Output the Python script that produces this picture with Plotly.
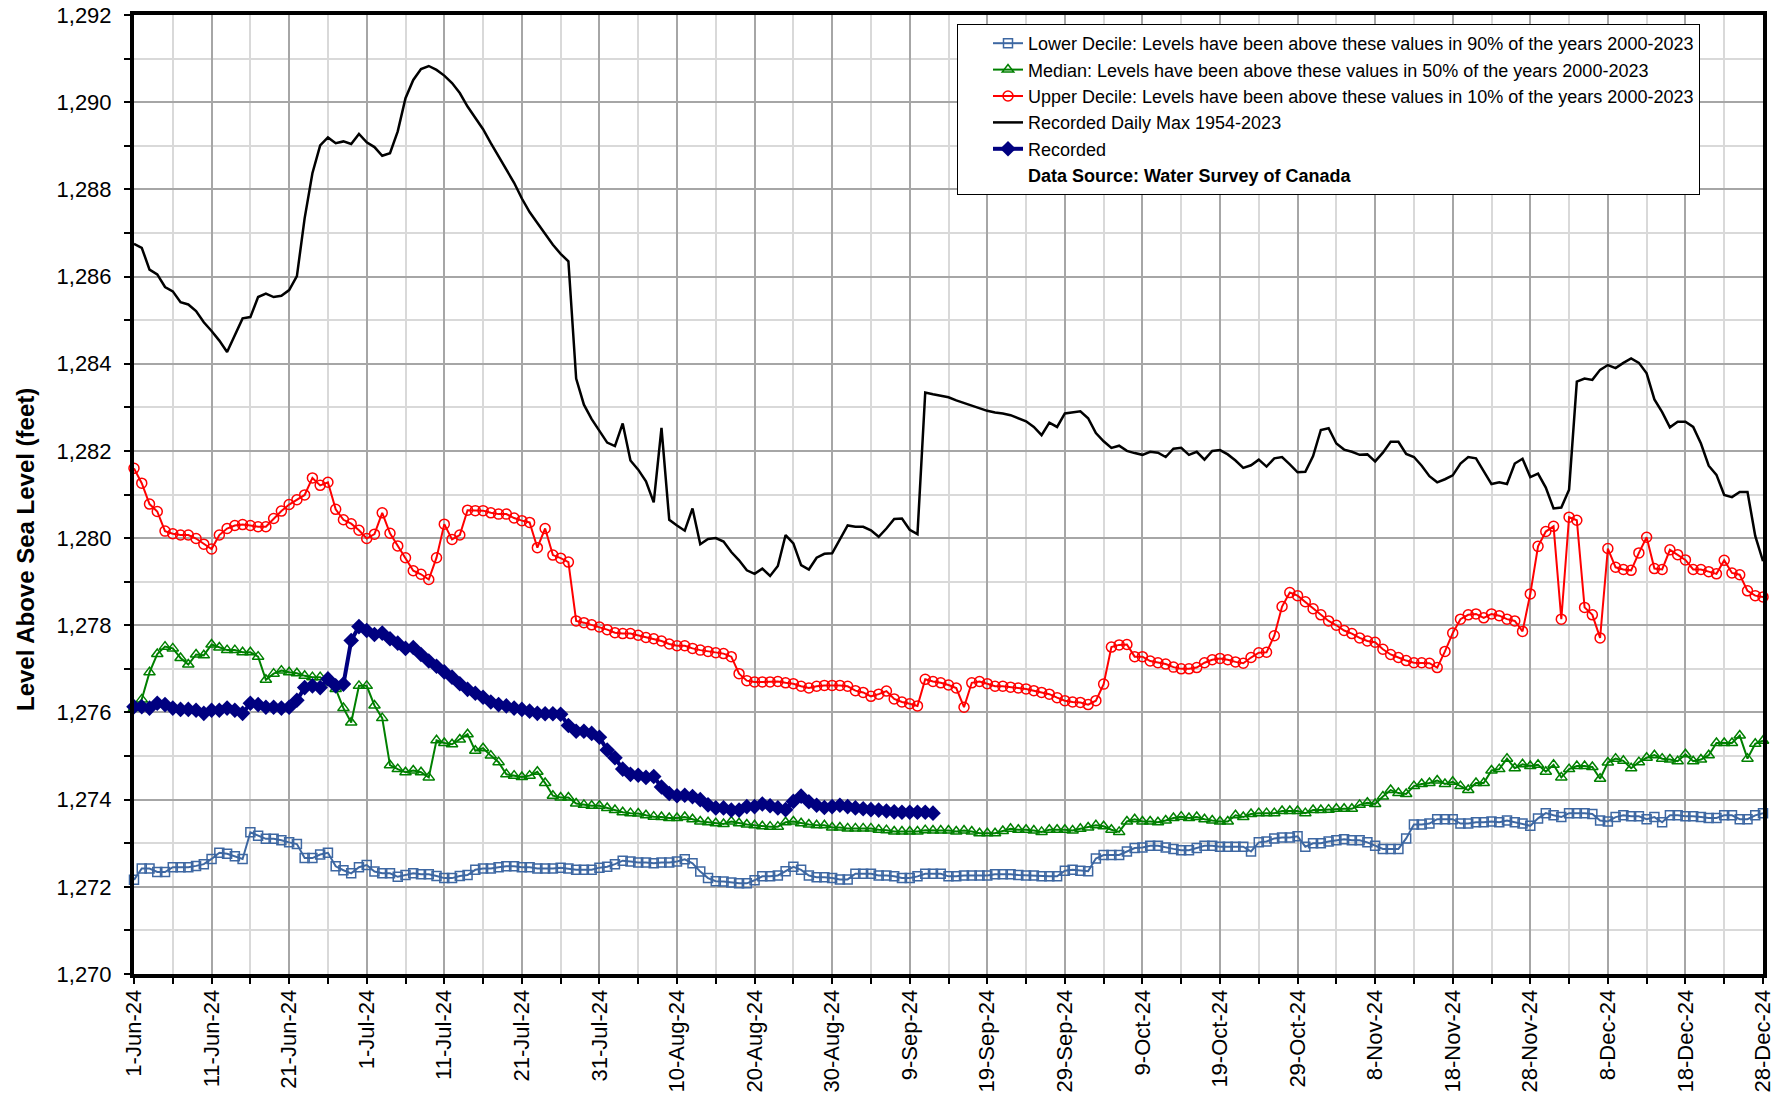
import pandas as pd
import plotly.graph_objects as go

dates = [d.strftime("%Y-%m-%d") for d in pd.date_range("2024-06-01", "2024-12-28", freq="D")]

lower_decile = [
    1272.16, 1272.42, 1272.42, 1272.34, 1272.34, 1272.45, 1272.45, 1272.45, 1272.48, 1272.52,
    1272.64, 1272.78, 1272.76, 1272.70, 1272.64, 1273.25, 1273.17, 1273.10, 1273.10, 1273.07,
    1273.02, 1272.98, 1272.66, 1272.66, 1272.74, 1272.78, 1272.47, 1272.38, 1272.31, 1272.45,
    1272.50, 1272.35, 1272.31, 1272.31, 1272.23, 1272.27, 1272.31, 1272.29, 1272.29, 1272.25,
    1272.20, 1272.20, 1272.25, 1272.27, 1272.39, 1272.42, 1272.42, 1272.45, 1272.47, 1272.47,
    1272.45, 1272.45, 1272.42, 1272.42, 1272.42, 1272.44,
    1272.42, 1272.39, 1272.39, 1272.39, 1272.44, 1272.46, 1272.52, 1272.60, 1272.58, 1272.56,
    1272.56, 1272.54, 1272.56, 1272.56, 1272.58, 1272.63, 1272.54, 1272.35, 1272.20, 1272.13,
    1272.12, 1272.10, 1272.08, 1272.08, 1272.15, 1272.24, 1272.24, 1272.26, 1272.36, 1272.46,
    1272.39, 1272.26, 1272.22, 1272.22, 1272.20, 1272.17, 1272.17, 1272.30, 1272.30, 1272.30,
    1272.26, 1272.26, 1272.24, 1272.20, 1272.20, 1272.24, 1272.30, 1272.30, 1272.30, 1272.24,
    1272.24, 1272.26, 1272.26, 1272.26, 1272.26, 1272.29,
    1272.29, 1272.29, 1272.27, 1272.26, 1272.26, 1272.24, 1272.24, 1272.24, 1272.37, 1272.39,
    1272.37, 1272.36, 1272.65, 1272.73, 1272.73, 1272.73, 1272.81, 1272.89, 1272.90, 1272.94,
    1272.94, 1272.90, 1272.87, 1272.84, 1272.84, 1272.89, 1272.94, 1272.94, 1272.92, 1272.92,
    1272.92, 1272.92, 1272.81, 1273.02, 1273.04, 1273.11, 1273.13, 1273.13, 1273.16, 1272.92,
    1273.00, 1273.00, 1273.04, 1273.07, 1273.09, 1273.07, 1273.07, 1273.02, 1272.94, 1272.87,
    1272.87, 1272.87,
    1273.11, 1273.43, 1273.43, 1273.45, 1273.55, 1273.55, 1273.55, 1273.45, 1273.45, 1273.48,
    1273.48, 1273.50, 1273.48, 1273.52, 1273.48, 1273.45, 1273.40, 1273.57, 1273.69, 1273.64,
    1273.60, 1273.69, 1273.69, 1273.69, 1273.67, 1273.52, 1273.50, 1273.60, 1273.64, 1273.62,
    1273.62, 1273.55, 1273.60, 1273.48, 1273.64, 1273.64, 1273.62, 1273.62, 1273.60, 1273.58,
    1273.58, 1273.64, 1273.64, 1273.55, 1273.55, 1273.64, 1273.69,
]

median = [
    1276.10, 1276.30, 1276.92, 1277.34, 1277.51, 1277.47, 1277.25, 1277.10, 1277.33, 1277.31,
    1277.56, 1277.49, 1277.43, 1277.43, 1277.38, 1277.38, 1277.28, 1276.75, 1276.89, 1276.96,
    1276.92, 1276.90, 1276.84, 1276.81, 1276.81, 1276.69, 1276.54, 1276.10, 1275.77, 1276.61,
    1276.61, 1276.16, 1275.87, 1274.79, 1274.70, 1274.63, 1274.67, 1274.63, 1274.51, 1275.36,
    1275.30, 1275.27, 1275.38, 1275.50, 1275.12, 1275.18, 1275.01, 1274.86, 1274.58, 1274.55,
    1274.52, 1274.55, 1274.64, 1274.38, 1274.09, 1274.05,
    1274.05, 1273.91, 1273.88, 1273.86, 1273.86, 1273.81, 1273.76, 1273.71, 1273.69, 1273.68,
    1273.64, 1273.61, 1273.60, 1273.58, 1273.58, 1273.60, 1273.55, 1273.50, 1273.48, 1273.46,
    1273.44, 1273.50, 1273.46, 1273.43, 1273.41, 1273.39, 1273.38, 1273.38, 1273.48, 1273.50,
    1273.46, 1273.43, 1273.41, 1273.41, 1273.36, 1273.36, 1273.34, 1273.34, 1273.34, 1273.34,
    1273.31, 1273.30, 1273.27, 1273.27, 1273.27, 1273.27, 1273.30, 1273.29, 1273.29, 1273.29,
    1273.27, 1273.29, 1273.27, 1273.23, 1273.23, 1273.23,
    1273.28, 1273.33, 1273.31, 1273.31, 1273.29, 1273.26, 1273.31, 1273.31, 1273.31, 1273.29,
    1273.33, 1273.36, 1273.41, 1273.39, 1273.31, 1273.26, 1273.50, 1273.55, 1273.50, 1273.50,
    1273.48, 1273.52, 1273.58, 1273.61, 1273.58, 1273.60, 1273.55, 1273.52, 1273.50, 1273.50,
    1273.64, 1273.60, 1273.67, 1273.69, 1273.69, 1273.69, 1273.74, 1273.74, 1273.74, 1273.69,
    1273.76, 1273.76, 1273.77, 1273.79, 1273.79, 1273.79, 1273.88, 1273.93, 1273.90, 1274.07,
    1274.22, 1274.15,
    1274.13, 1274.31, 1274.36, 1274.38, 1274.44, 1274.36, 1274.41, 1274.31, 1274.22, 1274.38,
    1274.38, 1274.67, 1274.70, 1274.94, 1274.72, 1274.81, 1274.77, 1274.80, 1274.64, 1274.80,
    1274.51, 1274.70, 1274.77, 1274.77, 1274.75, 1274.48, 1274.85, 1274.94, 1274.89, 1274.72,
    1274.86, 1274.96, 1275.02, 1274.94, 1274.92, 1274.88, 1275.04, 1274.88, 1274.92, 1275.02,
    1275.30, 1275.30, 1275.30, 1275.47, 1274.94, 1275.28, 1275.35,
]

upper_decile = [
    1281.60, 1281.26, 1280.78, 1280.61, 1280.16, 1280.10, 1280.07, 1280.07, 1279.99, 1279.86,
    1279.75, 1280.07, 1280.22, 1280.29, 1280.31, 1280.29, 1280.26, 1280.26, 1280.45, 1280.62,
    1280.77, 1280.88, 1280.99, 1281.38, 1281.21, 1281.28, 1280.66, 1280.42, 1280.33, 1280.18,
    1279.99, 1280.09, 1280.58, 1280.11, 1279.82, 1279.55, 1279.25, 1279.17, 1279.05, 1279.55,
    1280.32, 1279.97, 1280.07, 1280.64, 1280.63, 1280.63, 1280.58, 1280.55, 1280.55, 1280.46,
    1280.40, 1280.36, 1279.78, 1280.22, 1279.61, 1279.54,
    1279.45, 1278.10, 1278.06, 1278.01, 1277.96, 1277.90, 1277.83, 1277.81, 1277.81, 1277.77,
    1277.72, 1277.69, 1277.64, 1277.57, 1277.53, 1277.53, 1277.47, 1277.43, 1277.40, 1277.37,
    1277.35, 1277.28, 1276.89, 1276.73, 1276.70, 1276.70, 1276.70, 1276.71, 1276.68, 1276.66,
    1276.60, 1276.56, 1276.60, 1276.62, 1276.62, 1276.62, 1276.60, 1276.50, 1276.46, 1276.37,
    1276.42, 1276.49, 1276.31, 1276.24, 1276.20, 1276.15, 1276.76, 1276.71, 1276.68, 1276.63,
    1276.56, 1276.12, 1276.68, 1276.71, 1276.66, 1276.60,
    1276.60, 1276.58, 1276.56, 1276.54, 1276.50, 1276.46, 1276.42, 1276.34, 1276.27, 1276.24,
    1276.23, 1276.18, 1276.27, 1276.65, 1277.50, 1277.55, 1277.56, 1277.28, 1277.28, 1277.18,
    1277.14, 1277.11, 1277.04, 1277.00, 1277.00, 1277.03, 1277.14, 1277.21, 1277.24, 1277.21,
    1277.16, 1277.13, 1277.26, 1277.37, 1277.38, 1277.76, 1278.43, 1278.75, 1278.68, 1278.54,
    1278.38, 1278.24, 1278.10, 1278.00, 1277.88, 1277.81, 1277.71, 1277.64, 1277.61, 1277.45,
    1277.33, 1277.26,
    1277.19, 1277.14, 1277.14, 1277.13, 1277.03, 1277.40, 1277.82, 1278.14, 1278.24, 1278.26,
    1278.17, 1278.26, 1278.22, 1278.14, 1278.10, 1277.86, 1278.72, 1279.81, 1280.15, 1280.27,
    1278.14, 1280.48, 1280.41, 1278.41, 1278.24, 1277.71, 1279.76, 1279.33, 1279.28, 1279.26,
    1279.66, 1280.02, 1279.30, 1279.28, 1279.73, 1279.62, 1279.50, 1279.28, 1279.28, 1279.23,
    1279.18, 1279.49, 1279.20, 1279.16, 1278.79, 1278.68, 1278.65,
]

daily_max = [
    1286.75, 1286.66, 1286.16, 1286.05, 1285.76, 1285.66, 1285.41, 1285.36, 1285.21, 1284.95,
    1284.75, 1284.53, 1284.27, 1284.67, 1285.04, 1285.07, 1285.53, 1285.61, 1285.53, 1285.56,
    1285.69, 1286.01, 1287.34, 1288.37, 1289.01, 1289.19, 1289.06, 1289.10, 1289.04, 1289.27,
    1289.08, 1288.97, 1288.77, 1288.83, 1289.33, 1290.09, 1290.51, 1290.76, 1290.83, 1290.74,
    1290.61, 1290.44, 1290.21, 1289.90, 1289.65, 1289.38, 1289.06, 1288.76, 1288.43, 1288.15,
    1287.79, 1287.48, 1287.23, 1286.98, 1286.73, 1286.52, 1286.35,
    1283.66, 1283.06, 1282.73, 1282.46, 1282.19, 1282.11, 1282.63, 1281.78, 1281.57, 1281.30,
    1280.82, 1282.53, 1280.42, 1280.29, 1280.17, 1280.68, 1279.86, 1279.98, 1280.00, 1279.92,
    1279.68, 1279.49, 1279.26, 1279.18, 1279.30, 1279.13, 1279.36, 1280.07, 1279.88, 1279.38,
    1279.28, 1279.55, 1279.64, 1279.65, 1279.97, 1280.29, 1280.26, 1280.26, 1280.18, 1280.03,
    1280.22, 1280.44, 1280.45, 1280.19, 1280.09, 1283.34, 1283.30, 1283.26, 1283.23, 1283.16,
    1283.10, 1283.04, 1282.97, 1282.92, 1282.88,
    1282.86, 1282.82, 1282.75, 1282.68, 1282.55, 1282.36, 1282.65, 1282.55, 1282.86, 1282.88,
    1282.91, 1282.75, 1282.41, 1282.22, 1282.07, 1282.12, 1282.00, 1281.95, 1281.91, 1281.98,
    1281.96, 1281.86, 1282.05, 1282.07, 1281.91, 1281.98, 1281.80, 1282.00, 1282.02, 1281.92,
    1281.78, 1281.61, 1281.67, 1281.80, 1281.64, 1281.83, 1281.86, 1281.69, 1281.51, 1281.52,
    1281.88, 1282.48, 1282.52, 1282.17, 1282.03, 1281.98, 1281.91, 1281.92, 1281.76, 1281.96,
    1282.21, 1282.21,
    1281.93, 1281.86, 1281.66, 1281.42, 1281.28, 1281.35, 1281.44, 1281.71, 1281.86, 1281.83,
    1281.54, 1281.24, 1281.28, 1281.24, 1281.71, 1281.82, 1281.40, 1281.48, 1281.16, 1280.68,
    1280.70, 1281.11, 1283.59, 1283.66, 1283.63, 1283.86, 1283.97, 1283.90, 1284.02, 1284.12,
    1284.02, 1283.78, 1283.18, 1282.89, 1282.54, 1282.67, 1282.67, 1282.55, 1282.17, 1281.66,
    1281.45, 1280.99, 1280.94, 1281.06, 1281.06, 1280.05, 1279.47,
]

recorded = [
    1276.13, 1276.13, 1276.10, 1276.21, 1276.18, 1276.10, 1276.07, 1276.07, 1276.05, 1275.98,
    1276.05, 1276.05, 1276.10, 1276.05, 1275.98, 1276.21, 1276.18, 1276.12, 1276.12, 1276.10,
    1276.12, 1276.28, 1276.57, 1276.61, 1276.57, 1276.77, 1276.61, 1276.65, 1277.65, 1277.97,
    1277.88, 1277.79, 1277.82, 1277.69, 1277.59, 1277.47, 1277.49, 1277.33, 1277.18, 1277.06,
    1276.93, 1276.81, 1276.66, 1276.53, 1276.44, 1276.35, 1276.24, 1276.18, 1276.15, 1276.10,
    1276.07, 1276.03, 1275.98, 1275.97, 1275.97, 1275.96, 1275.70,
    1275.57, 1275.57, 1275.52, 1275.43, 1275.14, 1274.96, 1274.70, 1274.58, 1274.56, 1274.51,
    1274.53, 1274.29, 1274.14, 1274.09, 1274.10, 1274.07, 1274.00, 1273.88, 1273.81, 1273.81,
    1273.76, 1273.76, 1273.84, 1273.84, 1273.90, 1273.86, 1273.81, 1273.77, 1273.96, 1274.08,
    1273.95, 1273.87, 1273.82, 1273.84, 1273.87, 1273.84, 1273.81, 1273.79, 1273.77, 1273.76,
    1273.74, 1273.72, 1273.71, 1273.71, 1273.71, 1273.71, 1273.69,
]

names = [
    "Lower Decile: Levels have been above these values in 90% of the years 2000-2023",
    "Median: Levels have been above these values in 50% of the years 2000-2023",
    "Upper Decile: Levels have been above these values in 10% of the years 2000-2023",
    "Recorded Daily Max 1954-2023",
    "Recorded",
    "<b>Data Source: Water Survey of Canada</b>",
]

FONT = "Arial, 'Liberation Sans', sans-serif"

W, H = 1786, 1097
ML, MR, MT, MB = 134, 23, 15, 123
PW = W - ML - MR
PH = H - MT - MB

fig = go.Figure()
fig.add_trace(go.Scatter(
    x=dates, y=lower_decile, name=names[0], mode="lines+markers",
    line=dict(color="#3D67A2", width=2),
    marker=dict(symbol="square-open", size=9, color="#3D67A2", line=dict(width=1.5)),
    cliponaxis=False))
fig.add_trace(go.Scatter(
    x=dates, y=median, name=names[1], mode="lines+markers",
    line=dict(color="#008000", width=2),
    marker=dict(symbol="triangle-up-open", size=10, color="#008000", line=dict(width=1.5)),
    cliponaxis=False))
fig.add_trace(go.Scatter(
    x=dates, y=upper_decile, name=names[2], mode="lines+markers",
    line=dict(color="#FF0000", width=2),
    marker=dict(symbol="circle-open", size=10, color="#FF0000", line=dict(width=1.5)),
    cliponaxis=False))
fig.add_trace(go.Scatter(
    x=dates, y=daily_max, name=names[3], mode="lines",
    line=dict(color="#000000", width=2.5)))
fig.add_trace(go.Scatter(
    x=dates[:len(recorded)], y=recorded, name=names[4], mode="lines+markers",
    line=dict(color="#000080", width=4),
    marker=dict(symbol="diamond", size=12, color="#000080"),
    cliponaxis=False))
fig.add_trace(go.Scatter(
    x=[None], y=[None], name=names[5], mode="lines",
    line=dict(color="rgba(0,0,0,0)", width=0)))

fig.update_layout(
    width=W, height=H,
    margin=dict(l=ML, r=MR, t=MT, b=MB, autoexpand=False),
    paper_bgcolor="white", plot_bgcolor="white",
    font=dict(family=FONT, color="black"),
    showlegend=True,
    legend=dict(
        x=(957 - ML) / PW, xanchor="left",
        y=(PH - (24 - MT)) / PH, yanchor="top",
        bgcolor="white", bordercolor="black", borderwidth=1,
        font=dict(family=FONT, size=18, color="black"),
        tracegroupgap=0,
        indentation=30,
    ),
    xaxis=dict(
        type="date", automargin=False,
        range=["2024-06-01", "2024-12-28"],
        tick0="2024-06-01", dtick=10 * 86400000,
        tickformat="%-d-%b-%y", tickangle=-90,
        tickfont=dict(family=FONT, size=22, color="black"),
        ticks="outside", ticklen=6, tickwidth=1.5, tickcolor="black",
        ticklabelstandoff=-3,
        showgrid=True, gridcolor="#A6A6A6", gridwidth=1.5,
        minor=dict(tick0="2024-06-01", dtick=5 * 86400000, showgrid=True,
                   gridcolor="#D9D9D9", gridwidth=1.5,
                   ticks="outside", ticklen=6, tickwidth=1.5, tickcolor="black"),
        showline=True, linecolor="black", linewidth=4, mirror=True,
        zeroline=False,
    ),
    yaxis=dict(
        automargin=False,
        range=[1270, 1292], dtick=2, tick0=1270,
        tickformat=",d",
        tickfont=dict(family=FONT, size=22, color="black"),
        ticks="outside", ticklen=6, tickwidth=1.5, tickcolor="black",
        ticklabelstandoff=8, ticklabeloverflow="allow",
        showgrid=True, gridcolor="#A6A6A6", gridwidth=1.5,
        minor=dict(dtick=1, showgrid=True, gridcolor="#D9D9D9", gridwidth=1.5,
                   ticks="outside", ticklen=6, tickwidth=1.5, tickcolor="black"),
        showline=True, linecolor="black", linewidth=4, mirror=True,
        zeroline=False,
    ),
    annotations=[dict(
        text="<b>Level Above Sea Level (feet)</b>",
        xref="paper", yref="paper",
        x=(25 - ML) / PW, y=(974 - 550) / PH,
        xanchor="center", yanchor="middle",
        textangle=-90, showarrow=False,
        font=dict(family=FONT, size=24, color="black"),
    )],
)

# remove the browser's default 8px body margin so the figure sits at the page origin
fig.write_html("out.html", config={"displayModeBar": False},
               post_script="document.body.style.margin='0px';")
